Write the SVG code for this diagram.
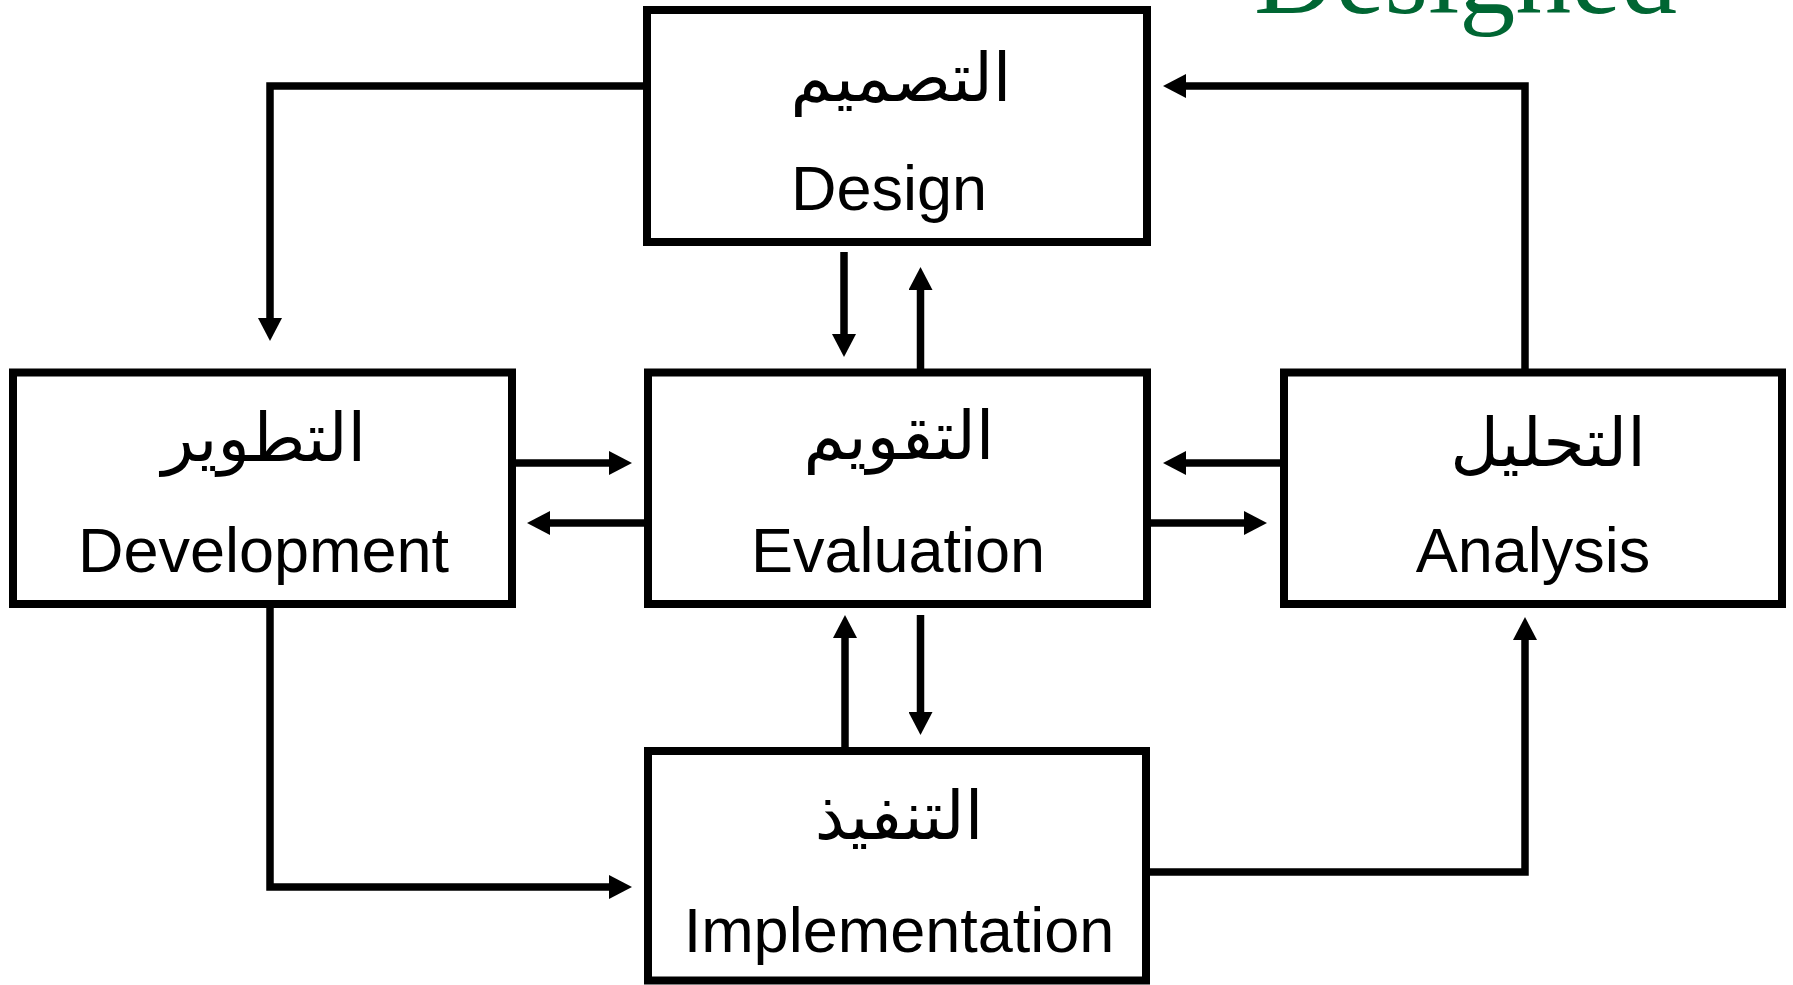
<svg xmlns="http://www.w3.org/2000/svg" width="1793" height="985" viewBox="0 0 1793 985">
  <style>
    .box { fill: #ffffff; stroke: #000000; stroke-width: 8; }
    .link { fill: none; stroke: #000000; stroke-width: 7.5; stroke-linejoin: miter; stroke-linecap: butt; marker-end: url(#head); }
    .en { font-family: "Liberation Sans", Arial, sans-serif; font-size: 63px; fill: #000000; text-anchor: middle; }
    .ar { font-family: "Liberation Serif", "DejaVu Sans", serif; font-size: 67px; fill: #000000; text-anchor: middle; }
    .title { font-family: "Liberation Serif", "Times New Roman", serif; font-size: 112px; fill: #006633; }
  </style>
  <defs>
    <marker id="head" markerUnits="userSpaceOnUse" markerWidth="24" markerHeight="24" refX="0" refY="12" orient="auto">
      <path d="M0,0 L23,12 L0,24 Z" fill="#000000"/>
    </marker>
  </defs>

  <rect width="1793" height="985" fill="#ffffff"/>

  <!-- heading, cut by the top edge -->
  <text class="title" x="1254" y="13">Designed</text>

  <!-- connectors -->
  <g id="connectors">
    <path class="link" d="M647,86 H270 V318"/>
    <path class="link" d="M512,463 H609"/>
    <path class="link" d="M648,523 H550"/>
    <path class="link" d="M844,252 V334"/>
    <path class="link" d="M920.5,372 V290"/>
    <path class="link" d="M1284,463 H1186"/>
    <path class="link" d="M1147,523 H1244"/>
    <path class="link" d="M1525,372 V86 H1186"/>
    <path class="link" d="M845,751 V638"/>
    <path class="link" d="M920.5,615 V712"/>
    <path class="link" d="M270,604 V887 H609"/>
    <path class="link" d="M1146,872 H1525 V640"/>
  </g>

  <g id="design">
    <rect class="box" x="647" y="10" width="500" height="232"/>
    <text class="ar" x="901" y="101">التصميم</text>
    <text class="en" x="889" y="210">Design</text>
  </g>

  <g id="development">
    <rect class="box" x="13" y="372.5" width="499" height="231.5"/>
    <text class="ar" x="264" y="461">التطوير</text>
    <text class="en" x="263.5" y="571.5">Development</text>
  </g>

  <g id="evaluation">
    <rect class="box" x="648" y="372.5" width="499" height="231.5"/>
    <text class="ar" x="899" y="459">التقويم</text>
    <text class="en" x="898" y="571.5">Evaluation</text>
  </g>

  <g id="analysis">
    <rect class="box" x="1284" y="372.5" width="498" height="231.5"/>
    <text class="ar" x="1548" y="466">التحليل</text>
    <text class="en" x="1533" y="571.5">Analysis</text>
  </g>

  <g id="implementation">
    <rect class="box" x="648" y="751" width="498" height="229.5"/>
    <text class="ar" x="899" y="839">التنفيذ</text>
    <text class="en" x="899" y="951.5">Implementation</text>
  </g>
</svg>
